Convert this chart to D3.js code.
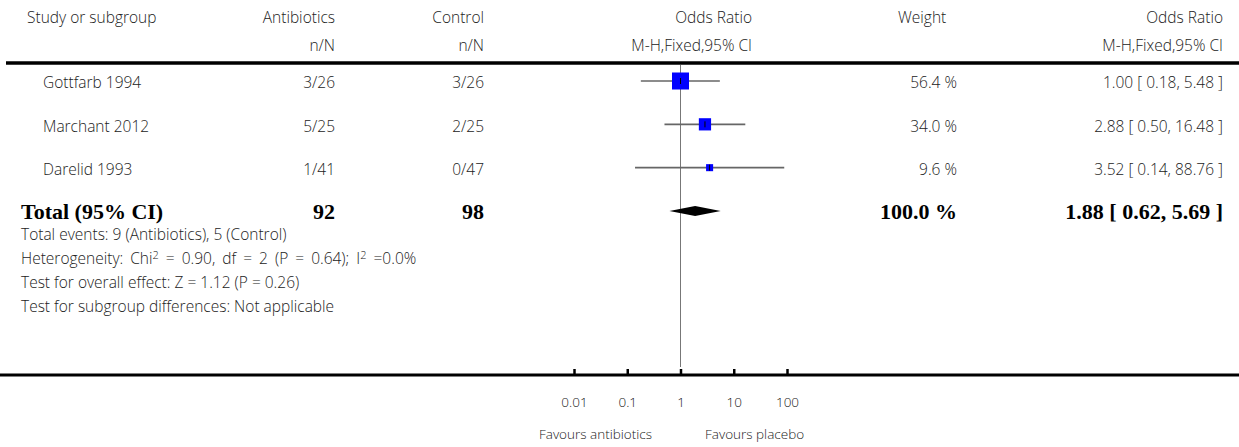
<!DOCTYPE html>
<html>
<head>
<meta charset="utf-8">
<script src="https://cdn.jsdelivr.net/npm/d3@7"></script>
<style>
  body { margin: 0; background: #fff; }
  svg { display: block; }
  .txt { font-family: "Open Sans", Lato, sans-serif; font-size: 15.5px; font-weight: 300; fill: #222; }
  .bold { font-family: "Liberation Serif", "DejaVu Serif", serif; font-size: 22px; font-weight: bold; fill: #000; }
  .small { font-family: "Open Sans", Lato, sans-serif; font-size: 13.5px; font-weight: 300; fill: #222; }
</style>
</head>
<body>
<svg id="chart" width="1239" height="447"></svg>
<script>
// data
const studies = ["Gottfarb 1994", "Marchant 2012", "Darelid 1993"];
const antibiotics = ["3/26", "5/25", "1/41"];
const control = ["3/26", "2/25", "0/47"];
const weights = [56.4, 34.0, 9.6];
const orValue = [1.00, 2.88, 3.52];
const orLow = [0.18, 0.50, 0.14];
const orHigh = [5.48, 16.48, 88.76];
const total = { antibiotics: 92, control: 98, weight: 100.0, or: 1.88, low: 0.62, high: 5.69 };
const tickValues = [0.01, 0.1, 1, 10, 100];
const tickLabels = ["0.01", "0.1", "1", "10", "100"];
const footnotes = [
  "Total events: 9 (Antibiotics), 5 (Control)",
  "Heterogeneity: Chi|2| = 0.90, df = 2 (P = 0.64); I|2| =0.0%",
  "Test for overall effect: Z = 1.12 (P = 0.26)",
  "Test for subgroup differences: Not applicable"
];

const W = 1239, H = 447;
const svg = d3.select("#chart");

// scales
const x = d3.scaleLog().domain([0.01, 100]).range([574, 787]);
const rowY = d3.scaleLinear().domain([0, 3]).range([81, 211]);
const boxSize = d3.scaleLinear().domain([0, 56.4]).range([5, 17]);
const axisY = 375;

const col = { study: 43, head: 27, foot: 21, antib: 335, ctrl: 484, weight: 957, or: 1223, plotHead: 752 };

const fmt2 = d3.format(".2f");
const ciText = (v, l, h) => `${fmt2(v)} [ ${fmt2(l)}, ${fmt2(h)} ]`;

function text(g, cls, xx, yy, s, anchor) {
  return g.append("text").attr("class", cls).attr("x", xx).attr("y", yy)
    .attr("dy", "0.35em").attr("text-anchor", anchor || "start").text(s);
}

// header
const head = svg.append("g");
text(head, "txt", col.head, 18, "Study or subgroup");
text(head, "txt", col.antib, 18, "Antibiotics", "end");
text(head, "txt", col.ctrl, 18, "Control", "end");
text(head, "txt", col.plotHead, 18, "Odds Ratio", "end");
text(head, "txt", 898, 18, "Weight");
text(head, "txt", col.or, 18, "Odds Ratio", "end");
text(head, "txt", col.antib, 46, "n/N", "end");
text(head, "txt", col.ctrl, 46, "n/N", "end");
text(head, "txt", col.plotHead, 46, "M-H,Fixed,95% CI", "end");
text(head, "txt", col.or, 46, "M-H,Fixed,95% CI", "end");

svg.append("line").attr("x1", 6).attr("x2", W).attr("y1", 63).attr("y2", 63)
  .attr("stroke", "#000").attr("stroke-width", 3.5);

// line of no effect
svg.append("line").attr("x1", x(1)).attr("x2", x(1)).attr("y1", 65).attr("y2", axisY - 8)
  .attr("stroke", "#777").attr("stroke-width", 1);

// study rows
const rows = svg.append("g");
studies.forEach((s, i) => {
  const yy = rowY(i);
  text(rows, "txt", col.study, yy + 2, s);
  text(rows, "txt", col.antib, yy + 2, antibiotics[i], "end");
  text(rows, "txt", col.ctrl, yy + 2, control[i], "end");
  text(rows, "txt", col.weight, yy + 2, weights[i].toFixed(1) + " %", "end");
  text(rows, "txt", col.or, yy + 2, ciText(orValue[i], orLow[i], orHigh[i]), "end");

  rows.append("line").attr("x1", x(orLow[i])).attr("x2", x(Math.min(orHigh[i], 100)))
    .attr("y1", yy).attr("y2", yy).attr("stroke", "#666").attr("stroke-width", 1.6);
  const b = boxSize(weights[i]);
  rows.append("rect").attr("x", x(orValue[i]) - b / 2).attr("y", yy - b / 2)
    .attr("width", b).attr("height", b).attr("fill", "#0000ff");
  rows.append("line").attr("x1", x(orValue[i])).attr("x2", x(orValue[i]))
    .attr("y1", yy - 3).attr("y2", yy + 3).attr("stroke", "#000").attr("stroke-width", 1);
});

// total row
const ty = rowY(3);
text(rows, "bold", col.foot, ty, "Total (95% CI)");
text(rows, "bold", col.antib, ty, total.antibiotics, "end");
text(rows, "bold", col.ctrl, ty, total.control, "end");
text(rows, "bold", col.weight, ty, total.weight.toFixed(1) + " %", "end");
text(rows, "bold", col.or, ty, ciText(total.or, total.low, total.high), "end");
rows.append("path")
  .attr("d", `M${x(total.low)},${ty} L${x(total.or)},${ty - 5} L${x(total.high)},${ty} L${x(total.or)},${ty + 5} Z`)
  .attr("fill", "#000");

// footnotes, with |2| as superscript
const notes = svg.append("g");
footnotes.forEach((f, i) => {
  const t = notes.append("text").attr("class", "txt").attr("x", col.foot)
    .attr("y", 235 + i * 24).attr("dy", "0.35em").attr("word-spacing", i === 1 ? 3 : 0);
  let shift = 0;
  f.split("|").forEach((part, j) => {
    const sp = t.append("tspan").text(part);
    if (j % 2 === 1) {
      sp.attr("dy", -5).attr("font-size", 11);
      shift = 5;
    } else if (shift) {
      sp.attr("dy", shift);
      shift = 0;
    }
  });
});

// bottom axis
svg.append("line").attr("x1", 0).attr("x2", W).attr("y1", axisY).attr("y2", axisY)
  .attr("stroke", "#000").attr("stroke-width", 3);
const axis = svg.append("g").attr("transform", `translate(0,${axisY})`)
  .call(d3.axisBottom(x).tickValues(tickValues).tickFormat((d, i) => tickLabels[i])
    .tickSizeInner(-6).tickSizeOuter(0).tickPadding(22));
axis.select(".domain").remove();
axis.selectAll(".tick line").attr("stroke", "#000").attr("stroke-width", 2.5);
axis.selectAll(".tick text").attr("class", "small").attr("font-family", null).attr("font-size", null).attr("fill", null);

text(svg, "small", 652, 434, "Favours antibiotics", "end");
text(svg, "small", 705, 434, "Favours placebo");
</script>
</body>
</html>
